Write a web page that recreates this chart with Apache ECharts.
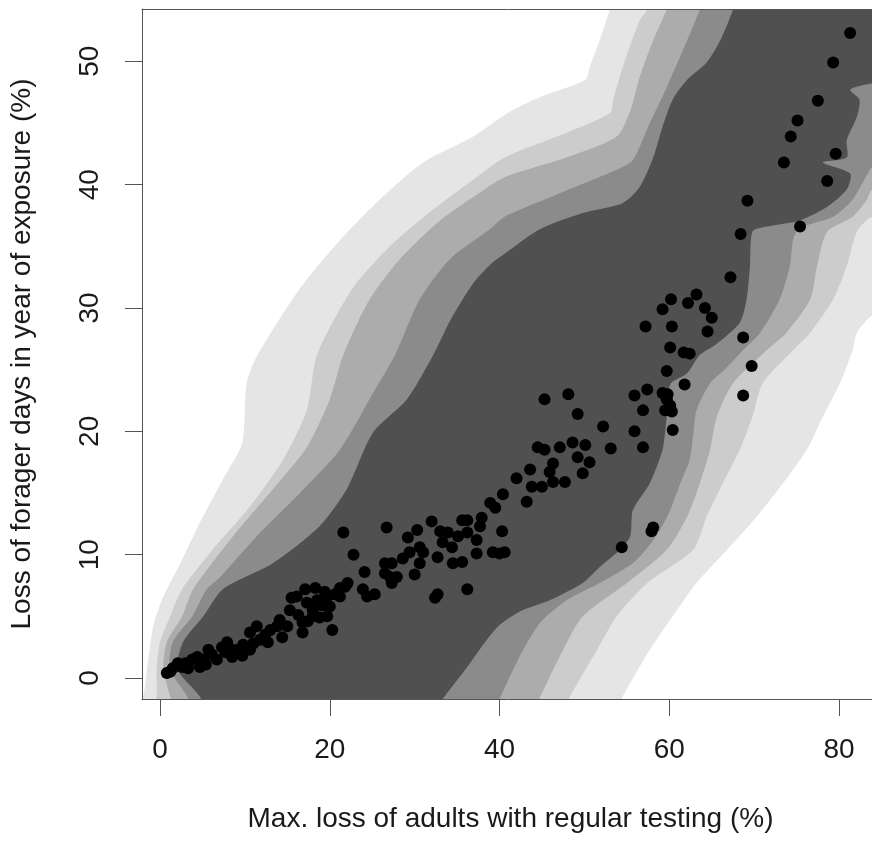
<!DOCTYPE html>
<html><head><meta charset="utf-8">
<script src="https://cdn.jsdelivr.net/npm/echarts@6/dist/echarts.min.js"></script>
<style>html,body{margin:0;padding:0;background:#fff}#chart{width:872px;height:841px}</style>
</head><body><div id="chart"></div>
<script>
const xTicks = [0, 20, 40, 60, 80];
const yTicks = [0, 10, 20, 30, 40, 50];
const xTitle = 'Max. loss of adults with regular testing (%)';
const yTitle = 'Loss of forager days in year of exposure (%)';

const points = [
[0.8,0.4],[1.5,0.8],[2.6,0.9],[3.3,0.8],[3.8,1.5],[4.7,0.9],[5.1,1.5],[5.7,2.3],[6.7,1.5],[7.3,2.5],[7.9,2.9],[8.5,1.7],[9.1,2.3],[9.8,2.7],[9.7,1.8],[10.6,2.3],[10.6,3.7],[11.4,4.2],[11.8,3.1],[12.4,3.5],[13.0,3.9],[13.8,4.2],[14.1,4.7],[14.4,3.3],[15.3,5.5],[16.1,6.6],[17.1,7.2],[17.3,6.1],[18.0,5.5],[18.5,6.3],[18.8,4.9],[19.4,7.0],[20.0,5.8],[20.3,3.9],[16.8,3.7],[17.4,4.6],[2.1,1.2],[4.4,1.7],[6.1,1.9],[7.7,2.1],[12.7,2.9],[15.0,4.2],[16.3,5.1],[18.3,7.3],[19.7,6.6],[20.6,6.8],[21.2,7.3],[19.1,5.9],
[15.5,6.5],[18.8,6.1],[19.7,5.0],[21.2,6.6],[18.0,5.0],[16.8,4.5],[1.2,0.5],[3.0,1.2],[5.4,1.1],[8.2,2.4],[11.0,2.8],
[21.6,11.8],[22.8,10.0],[24.1,8.6],[22.1,7.7],[21.8,7.4],[23.9,7.2],[24.4,6.6],[25.3,6.8],[26.5,9.3],[27.3,9.3],[26.5,8.5],[27.1,8.2],[27.9,8.2],[27.3,7.7],[30.0,8.4],[26.7,12.2],[28.6,9.7],[29.2,11.4],[29.4,10.2],[30.3,12.0],[30.6,10.6],[31.0,10.2],[30.6,9.3],[32.0,12.7],[33.0,11.9],[33.9,11.8],[33.3,11.0],[34.4,10.6],[32.7,9.8],[34.5,9.3],[35.6,9.4],[35.1,11.5],[32.7,6.8],[36.2,7.2],[32.4,6.5],
[35.6,12.8],[36.2,12.8],[37.9,13.0],[37.7,12.3],[36.2,11.8],[37.3,11.2],[40.3,11.9],[40.6,10.2],[39.2,10.2],[40.0,10.1],[37.3,10.1],[38.9,14.2],[39.5,13.8],[40.4,14.9],[43.2,14.3],[42.0,16.2],[43.8,15.5],[45.0,15.5],[43.6,16.9],[45.9,16.7],[46.3,17.4],[47.1,18.7],[44.5,18.7],[45.3,18.5],[45.3,22.6],[47.7,15.9],[46.3,15.9],[48.6,19.1],[50.1,18.9],[49.2,17.9],[50.6,17.5],[49.8,16.6],[48.1,23.0],[49.2,21.4],[52.2,20.4],[53.1,18.6],
[55.9,22.9],[57.4,23.4],[56.9,21.7],[59.2,23.1],[59.7,22.6],[60.1,22.1],[60.3,21.6],[60.4,20.1],[55.9,20.0],[56.9,18.7],[59.8,23.0],[59.5,21.7],[61.8,23.8],[59.7,24.9],[60.1,26.8],[61.7,26.4],[62.4,26.3],[57.2,28.5],[60.3,28.5],[64.5,28.1],[68.7,27.6],[60.2,30.7],[59.2,29.9],[63.2,31.1],[62.2,30.4],[64.2,30.0],[65.0,29.2],[57.9,11.9],[58.1,12.2],[54.4,10.6],[69.7,25.3],[68.7,22.9],[67.2,32.5],
[68.4,36.0],[69.2,38.7],[75.4,36.6],[73.5,41.8],[78.6,40.3],[79.6,42.5],[74.3,43.9],[75.1,45.2],[77.5,46.8],[79.3,49.9],[81.3,52.3]
];

// Shaded prediction regions: upper-left edge (bottom to top), then lower-right edge (top to bottom)
const band1Upper = [[-3.5,-3.4],[-2.0,-1.5],[-1.5,0.9],[-0.8,4.2],[0.4,6.6],[2.4,9.3],[4.7,12.6],[7.4,16.1],[9.7,19.1],[10.2,23.9],[11.5,26.2],[16.5,31.6],[21.2,35.5],[25.9,38.8],[31.0,41.8],[36.9,43.9],[41.2,45.9],[44.8,47.1],[50.1,48.5],[50.6,49.5],[51.8,51.7],[53.0,54.2],[54.2,56.6]];
const band1Lower = [[90,56.6],[90,31.5],[83.9,29.4],[82.1,28.0],[81.6,26.6],[80.1,23.9],[78.1,21.2],[76.2,18.5],[73.4,15.8],[70.3,13.1],[66.8,10.4],[63.2,7.7],[60.4,5.0],[57.7,2.3],[54.5,-1.5],[53.0,-3.4]];

const band2Upper = [[-1.2,-3.4],[-0.4,-1.5],[-0.4,0.7],[0.0,2.9],[1.2,5.0],[2.6,7.2],[6.2,10.4],[10.6,13.9],[14.5,17.7],[17.3,21.7],[18.5,26.2],[22.7,31.6],[27.1,35.0],[32.2,38.0],[36.9,40.4],[40.6,42.2],[47.9,44.2],[53.0,45.8],[53.4,46.9],[54.5,49.5],[56.5,53.3],[57.4,54.2],[58.3,56.6]];
const band2Lower = [[90,56.6],[90,38.5],[83.9,37.4],[82.1,36.2],[80.9,33.4],[79.3,30.7],[76.6,28.0],[74.6,26.6],[71.0,23.9],[69.8,21.2],[68.3,18.5],[66.3,15.8],[64.4,13.1],[62.8,10.4],[57.4,7.7],[53.8,5.0],[51.5,2.3],[48.3,-1.5],[47.1,-3.4]];

const band3Upper = [[1.8,-3.4],[1.2,-1.5],[0.4,0.7],[0.8,2.9],[2.6,5.0],[3.9,7.2],[8.6,11.5],[13.3,15.3],[17.3,18.7],[20.0,22.6],[21.6,26.2],[24.7,30.7],[28.3,34.0],[33.0,37.1],[36.9,39.0],[40.6,40.6],[47.9,42.2],[53.8,43.9],[55.4,46.0],[56.5,48.7],[58.1,51.7],[59.7,54.2],[60.9,56.6]];
const band3Lower = [[90,56.6],[90,40.5],[83.9,39.6],[83.3,38.8],[81.6,37.4],[78.6,36.2],[77.4,33.4],[76.6,30.7],[73.8,28.0],[71.5,26.6],[67.5,23.9],[65.6,21.2],[64.8,18.5],[63.6,15.8],[62.1,13.1],[59.7,10.4],[55.0,7.7],[49.8,5.0],[47.5,2.3],[44.8,-1.5],[43.6,-3.4]];

const band4Upper = [[4.1,-3.4],[3.2,-1.5],[1.2,0.7],[1.5,2.9],[3.8,5.0],[5.5,7.2],[7.1,8.2],[11.4,11.5],[16.5,15.0],[21.2,18.5],[25.1,23.1],[27.7,26.2],[30.6,30.7],[34.2,34.0],[38.9,36.4],[40.6,37.4],[47.1,39.3],[53.8,41.2],[55.7,42.0],[57.7,45.0],[59.7,47.9],[62.1,51.7],[63.6,54.2],[64.8,56.6]];
const band4Lower = [[90,56.6],[90,42.0],[83.9,41.4],[83.3,40.8],[81.6,38.8],[79.3,37.4],[75.4,36.5],[74.6,35.6],[74.2,33.4],[73.0,30.7],[70.7,28.0],[68.7,26.6],[66.5,25.0],[64.8,23.9],[63.2,21.7],[62.8,19.6],[62.4,17.7],[61.3,15.8],[60.1,13.6],[58.9,12.0],[57.7,10.8],[55.7,9.3],[51.8,7.7],[47.9,6.3],[44.8,4.5],[42.8,2.3],[41.2,0.1],[40.0,-1.7],[38.9,-3.4]];

const band5Upper = [[5.9,-3.4],[4.7,-1.5],[2.1,0.7],[2.7,2.9],[5.1,5.0],[7.4,7.2],[13.3,9.3],[18.8,12.3],[22.0,15.3],[25.1,19.9],[29.1,22.6],[32.2,26.2],[34.2,29.0],[36.9,32.0],[39.2,33.7],[40.6,34.4],[44.8,36.4],[49.8,37.7],[54.5,38.5],[56.5,39.8],[58.1,42.2],[59.2,44.7],[60.4,46.9],[62.1,48.5],[64.4,49.9],[66.0,51.7],[67.5,54.2],[68.3,56.6]];
const band5Lower = [[90,56.6],[90,48.4],[83.9,48.2],[81.3,47.7],[82.4,46.9],[82.1,45.5],[80.9,43.6],[80.9,42.2],[78.1,41.8],[81.3,40.9],[80.9,39.6],[78.6,38.2],[75.4,37.1],[71.5,36.6],[69.8,36.2],[69.5,33.4],[69.1,30.7],[68.3,28.8],[65.4,27.0],[63.6,26.2],[62.1,24.7],[60.1,23.8],[59.7,21.2],[59.2,18.5],[57.7,15.8],[55.7,13.6],[55.4,11.5],[54.2,10.4],[51.8,9.0],[49.8,7.7],[45.9,6.3],[42.4,5.4],[40.0,4.3],[38.5,3.1],[36.2,0.9],[33.3,-1.7],[31.8,-3.4]];

const bands = [
  band1Upper.concat(band1Lower),
  band2Upper.concat(band2Lower),
  band3Upper.concat(band3Lower),
  band4Upper.concat(band4Lower),
  band5Upper.concat(band5Lower)
];
const bandColors = ['#e5e5e5', '#cccccc', '#acacac', '#8b8b8b', '#505050'];

const FONT = '"Liberation Sans", Arial, Helvetica, sans-serif';
const TXT = '#1a1a1a';
const AX = '#555555';

function bandSeries(poly, color, z) {
  return {
    type: 'custom',
    coordinateSystem: 'cartesian2d',
    data: [poly[0]],
    encode: { x: 0, y: 1 },
    silent: true,
    z: z,
    renderItem: function (params, api) {
      const pts = poly.map(function (p) { return api.coord(p); });
      const cs = params.coordSys;
      return {
        type: 'polygon',
        shape: { points: pts, smooth: 0.25 },
        style: { fill: color },
        clipPath: { type: 'rect', shape: { x: cs.x, y: cs.y, width: cs.width, height: cs.height } }
      };
    }
  };
}

const series = bands.map(function (b, i) { return bandSeries(b, bandColors[i], 1 + i * 0.01); });
series.push({
  type: 'scatter',
  data: points,
  symbol: 'circle',
  symbolSize: 12,
  itemStyle: { color: '#000000', opacity: 1 },
  silent: true,
  z: 5
});

const chart = echarts.init(document.getElementById('chart'), null, { renderer: 'canvas' });
chart.setOption({
  animation: false,
  backgroundColor: '#ffffff',
  grid: { left: 142, top: 9, bottom: 142, right: -7, show: false, containLabel: false, outerBoundsMode: 'none' },
  xAxis: [
    {
      type: 'value', min: -2.12, max: 84.7, position: 'bottom', z: 10,
      axisLine: { show: true, onZero: false, lineStyle: { color: AX, width: 1 } },
      axisTick: { show: true, inside: false, length: 17, lineStyle: { color: AX, width: 1 }, customValues: xTicks },
      axisLabel: { show: true, customValues: xTicks, fontSize: 28, color: TXT, margin: 37, fontFamily: FONT },
      splitLine: { show: false },
      name: xTitle, nameLocation: 'middle', nameGap: 106,
      nameTextStyle: { fontSize: 28, color: TXT, fontFamily: FONT }
    },
    {
      type: 'value', min: -2.12, max: 84.7, position: 'top', z: 10,
      axisLine: { show: true, onZero: false, lineStyle: { color: AX, width: 1 } },
      axisTick: { show: false }, axisLabel: { show: false }, splitLine: { show: false }
    }
  ],
  yAxis: [
    {
      type: 'value', min: -1.7, max: 54.24, position: 'left', z: 10,
      axisLine: { show: true, onZero: false, lineStyle: { color: AX, width: 1 } },
      axisTick: { show: true, inside: false, length: 17, lineStyle: { color: AX, width: 1 }, customValues: yTicks },
      axisLabel: { show: true, customValues: yTicks, rotate: 90, fontSize: 28, color: TXT, margin: 38, fontFamily: FONT },
      splitLine: { show: false },
      name: yTitle, nameLocation: 'middle', nameGap: 106,
      nameTextStyle: { fontSize: 28, color: TXT, fontFamily: FONT }
    }
  ],
  series: series
});
</script>
</body></html>
